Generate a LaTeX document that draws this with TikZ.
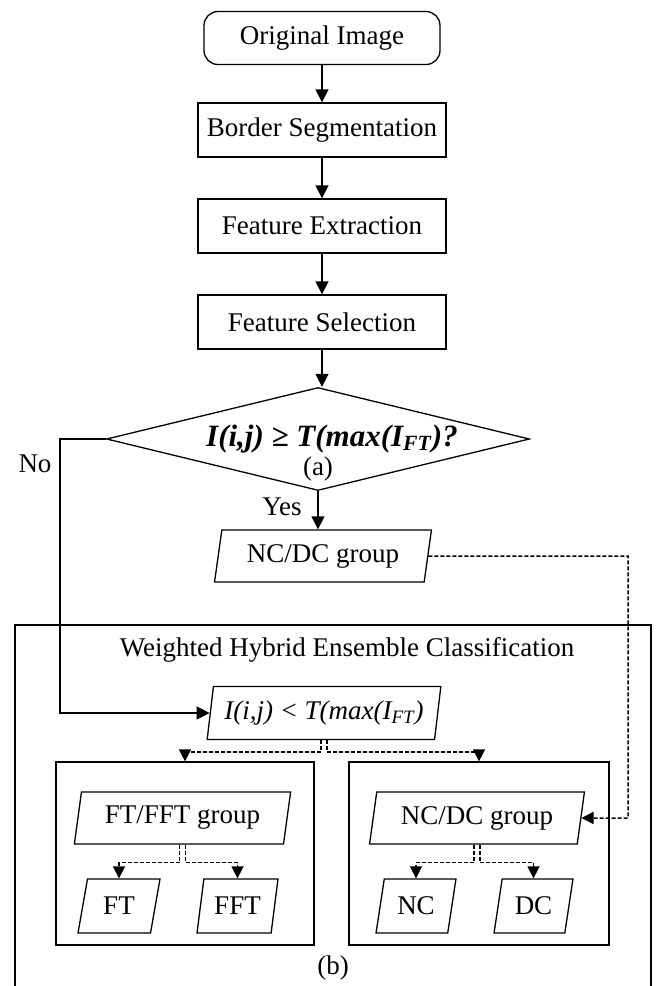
\documentclass[tikz,border=0pt]{standalone}
\usepackage{fontspec}
\usepackage{amsmath}
\setmainfont{Liberation Serif}
\usepackage{tikz}
\usetikzlibrary{shapes.geometric,arrows.meta}

\begin{document}
\begin{tikzpicture}[x=0.5pt, y=-0.5pt, line width=0.65pt,
  every node/.style={font=\fontsize{13.5}{16}\selectfont},
  procbox/.style={draw, minimum width=124pt, minimum height=27pt, inner sep=0pt},
  databox/.style={draw, trapezium, trapezium left angle=77, trapezium right angle=103, trapezium stretches=true, inner sep=0pt},
  smallbox/.style={databox, trapezium left angle=75, trapezium right angle=105, minimum height=27pt},
  arr/.style={-{Triangle[length=6.5pt,width=6.5pt]}},
  darr/.style={-{Triangle[length=6pt,width=6pt]}, line width=0.75pt, dash pattern=on 2pt off 1pt}]

  \useasboundingbox (0,0) rectangle (658,986);

  \node (orig) at (322,38) [draw, rounded corners=7pt, minimum width=118pt, minimum height=26.5pt] {Original Image};
  \node (seg) at (322,130) [procbox] {Border Segmentation};
  \node (ext) at (322,226) [procbox] {Feature Extraction};
  \node (sel) at (322,322) [procbox] {Feature Selection};
  \node (dec) at (318,439) [draw, diamond, minimum width=211.5pt, minimum height=51.5pt, inner sep=0pt] {};
  \node (cond) at (332,439) [font=\fontsize{15.5}{18}\selectfont] {\textbf{\textit{I(i,j) ≥ T(max(I$_{\textbf{\textit{FT}}}$)?}}};
  \node (a) at (318,469) {(a)};
  \node (yes) at (282,507) {Yes};
  \node (no) at (35,464) {No};
  \node (ncdc) at (323,556) [databox, minimum width=109pt, minimum height=26pt] {NC/DC group};

  \draw[arr] (orig) -- (seg);
  \draw[arr] (seg) -- (ext);
  \draw[arr] (ext) -- (sel);
  \draw[arr] (sel.south) -- (sel.south |- dec.north);
  \draw[arr] (dec.south) -- (dec.south |- ncdc.north);

  \draw (15,992) -- (15,625) -- (651,625) -- (651,992);
  \node (wh) at (347,650) {Weighted Hybrid Ensemble Classification};
  \node (lt) at (324,713) [databox, minimum width=117pt, minimum height=26.5pt] {\textit{I(i,j) < T(max(I$_{\textit{FT}}$)}};

  \node (boxL) at (185,853.5) [draw, minimum width=129pt, minimum height=91.5pt] {};
  \node (boxR) at (479,853.5) [draw, minimum width=130pt, minimum height=91.5pt] {};
  \node (ftg) at (182.5,818) [databox, minimum width=108.5pt, minimum height=26pt] {FT/FFT group};
  \node (ncdcB) at (477,818) [databox, minimum width=108pt, minimum height=26pt] {NC/DC group};
  \node (ft) at (119,906) [smallbox, minimum width=41pt] {FT};
  \node (fft) at (237.5,906) [smallbox, minimum width=40.5pt] {FFT};
  \node (nc) at (416,906) [smallbox, minimum width=40pt] {NC};
  \node (dc) at (533.5,906) [smallbox, minimum width=39.5pt] {DC};
  \node (b) at (333,968) {(b)};

  \draw[arr] (dec.west) -- ++(-46,0) |- (lt.west);
  \coordinate (rail) at (628,556);
  \draw[darr] (ncdc.east) -- (rail) |- (ncdcB.east);

  \draw[darr] ([xshift=-1.5pt]lt.south) -- ++(0,12) -| (boxL.north);
  \draw[darr] ([xshift=1.5pt]lt.south) -- ++(0,12) -| (boxR.north);
  \draw[darr] ([xshift=-1.5pt]ftg.south) -- ++(0,18) -| (ft.north);
  \draw[darr] ([xshift=1.5pt]ftg.south) -- ++(0,18) -| (fft.north);
  \draw[darr] ([xshift=-1.5pt]ncdcB.south) -- ++(0,18) -| (nc.north);
  \draw[darr] ([xshift=1.5pt]ncdcB.south) -- ++(0,18) -| (dc.north);
\end{tikzpicture}
\end{document}
